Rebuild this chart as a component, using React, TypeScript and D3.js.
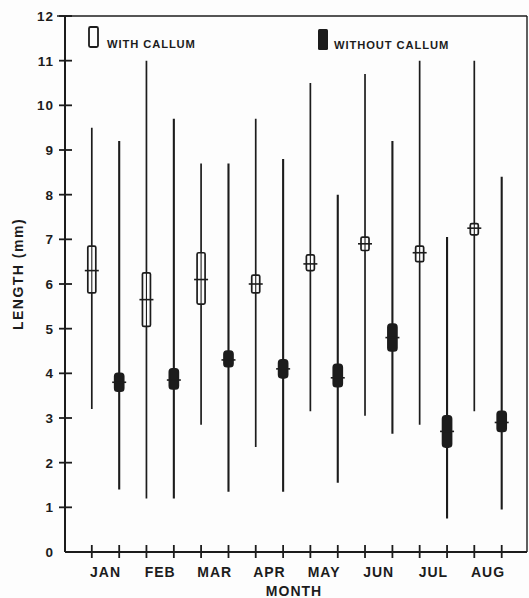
import * as d3 from 'd3';

const months = ['JAN', 'FEB', 'MAR', 'APR', 'MAY', 'JUN', 'JUL', 'AUG'];
const yTicks = [0, 1, 2, 3, 4, 5, 6, 7, 8, 9, 10, 11, 12];

// with callum (open boxes)
const withMin = [3.2, 1.2, 2.85, 2.35, 3.15, 3.05, 2.85, 3.15];
const withMax = [9.5, 11.0, 8.7, 9.7, 10.5, 10.7, 11.0, 11.0];
const withLo = [5.8, 5.05, 5.55, 5.8, 6.3, 6.75, 6.5, 7.1];
const withHi = [6.85, 6.25, 6.7, 6.2, 6.65, 7.05, 6.85, 7.35];
const withMean = [6.3, 5.65, 6.1, 6.0, 6.45, 6.9, 6.7, 7.25];

// without callum (filled boxes)
const withoutMin = [1.4, 1.2, 1.35, 1.35, 1.55, 2.65, 0.75, 0.95];
const withoutMax = [9.2, 9.7, 8.7, 8.8, 8.0, 9.2, 7.05, 8.4];
const withoutLo = [3.6, 3.65, 4.15, 3.9, 3.7, 4.5, 2.35, 2.7];
const withoutHi = [4.0, 4.1, 4.5, 4.3, 4.2, 5.1, 3.05, 3.15];
const withoutMean = [3.8, 3.85, 4.3, 4.1, 3.9, 4.8, 2.7, 2.9];

const W = 529;
const H = 598;
const left = 65;
const right = 527;
const top = 16;
const bottom = 552;
const ink = '#1c1c1c';
const paper = '#fdfdfd';
const font = '"Liberation Sans", Arial, sans-serif';

export default function App() {
  const y = d3.scaleLinear().domain([0, 12]).range([bottom, top]);
  const x = d3.scalePoint<string>().domain(months).range([105.5, 488]);
  const off = 13.7;

  const series = [
    { dx: -off, min: withMin, max: withMax, lo: withLo, hi: withHi, mean: withMean, filled: false },
    { dx: off, min: withoutMin, max: withoutMax, lo: withoutLo, hi: withoutHi, mean: withoutMean, filled: true },
  ];

  return (
    <svg width={W} height={H} style={{ position: 'absolute', left: 0, top: 0, background: paper }}>
      {/* frame */}
      <line x1={left} x2={left} y1={top} y2={bottom} stroke={ink} strokeWidth={2} />
      <line x1={left - 8} x2={right} y1={top} y2={top} stroke={ink} strokeWidth={1.6} />
      <line x1={right} x2={right} y1={top} y2={bottom} stroke={ink} strokeWidth={1.4} />
      <line x1={left} x2={right} y1={bottom} y2={bottom} stroke={ink} strokeWidth={2} />

      {/* y ticks */}
      {yTicks.map((t) => (
        <g key={t}>
          {t > 0 && (
            <line x1={left - 6} x2={left + 7} y1={y(t)} y2={y(t)} stroke={ink} strokeWidth={1.8} />
          )}
          <text x={54} y={y(t)} dy="0.36em" textAnchor="end" fontFamily={font} fontWeight="bold" fontSize={13.5} letterSpacing={1} fill={ink}>
            {t}
          </text>
        </g>
      ))}

      {/* x ticks */}
      {months.map((m) =>
        [-off, off].map((d) => (
          <line key={m + d} x1={x(m)! + d} x2={x(m)! + d} y1={bottom - 7} y2={bottom + 6} stroke={ink} strokeWidth={1.8} />
        ))
      )}
      {months.map((m) => (
        <text key={m} x={x(m)} y={577} textAnchor="middle" fontFamily={font} fontWeight="bold" fontSize={14} letterSpacing={1} fill={ink}>
          {m}
        </text>
      ))}

      {/* ranges, boxes, means */}
      {series.map((s, si) =>
        months.map((m, i) => {
          const cx = x(m)! + s.dx;
          const bw = s.filled ? 9 : 8;
          return (
            <g key={si + m}>
              <line x1={cx} x2={cx} y1={y(s.min[i])} y2={y(s.max[i])} stroke={ink} strokeWidth={s.filled ? 2.1 : 1.7} />
              <rect
                x={cx - bw / 2}
                y={y(s.hi[i])}
                width={bw}
                height={y(s.lo[i]) - y(s.hi[i])}
                rx={s.filled ? 3 : 1.5}
                fill={s.filled ? ink : paper}
                stroke={ink}
                strokeWidth={1.7}
              />
              {!s.filled && (
                <line x1={cx} x2={cx} y1={y(s.lo[i])} y2={y(s.hi[i])} stroke={ink} strokeWidth={1.1} />
              )}
              <line x1={cx - 7} x2={cx + 7} y1={y(s.mean[i])} y2={y(s.mean[i])} stroke={ink} strokeWidth={1.6} />
            </g>
          );
        })
      )}

      {/* legend */}
      <rect x={89} y={27} width={9} height={20} rx={1.5} fill={paper} stroke={ink} strokeWidth={1.8} />
      <text x={107} y={48} fontFamily={font} fontWeight="bold" fontSize={11.2} letterSpacing={0.9} fill={ink}>WITH CALLUM</text>
      <rect x={318} y={29} width={10} height={21} rx={1.5} fill={ink} />
      <text x={334} y={49} fontFamily={font} fontWeight="bold" fontSize={11.2} letterSpacing={0.9} fill={ink}>WITHOUT CALLUM</text>

      {/* axis titles */}
      <text x={294} y={596} textAnchor="middle" fontFamily={font} fontWeight="bold" fontSize={14} letterSpacing={1} fill={ink}>MONTH</text>
      <text
        transform="translate(23,274) rotate(-90)"
        textAnchor="middle"
        fontFamily={font}
        fontWeight="bold"
        fontSize={14}
        letterSpacing={1.5}
        fill={ink}
      >
        LENGTH (mm)
      </text>
    </svg>
  );
}
